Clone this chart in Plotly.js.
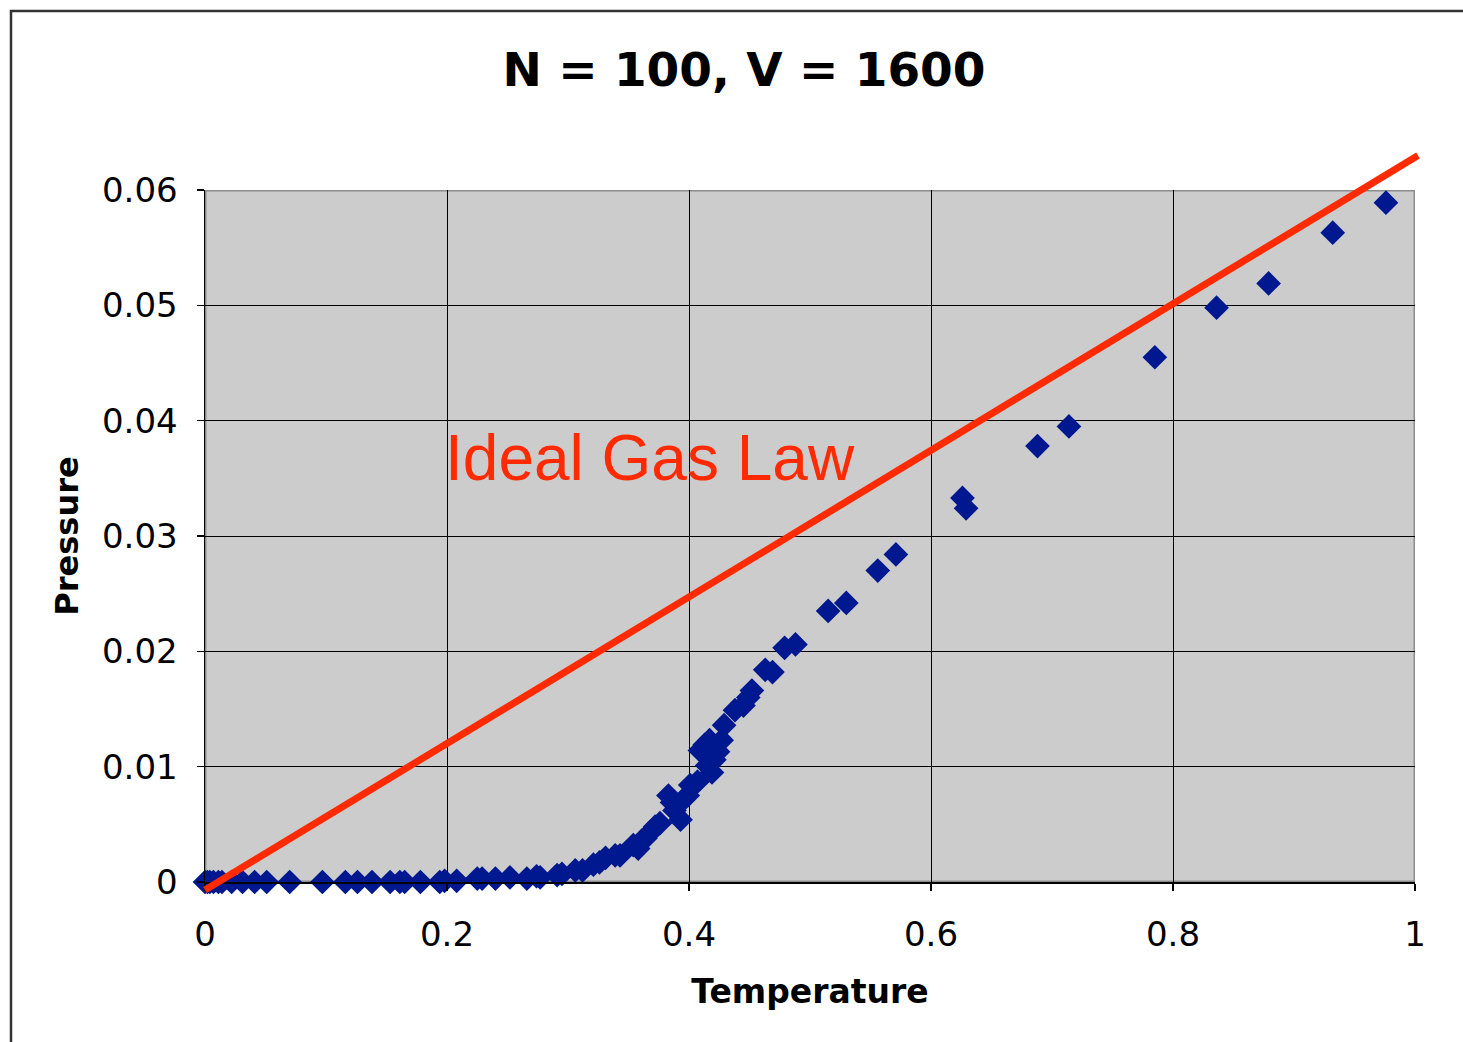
<!DOCTYPE html>
<html>
<head>
<meta charset="utf-8">
<script src="https://cdn.plot.ly/plotly-3.0.1.min.js"></script>
<style>html,body{margin:0;padding:0;background:#fff;}#chart{width:1463px;height:1042px;}</style>
</head>
<body>
<div id="chart"></div>
<script>
// ---- data ----
const temperature = [0, 0.002, 0.004, 0.007, 0.011, 0.014, 0.022, 0.031, 0.041, 0.051, 0.070, 0.097, 0.116, 0.126, 0.138, 0.153, 0.161, 0.165, 0.178, 0.194, 0.198,
  0.208, 0.225, 0.229, 0.240, 0.252, 0.266, 0.274, 0.277, 0.291, 0.295, 0.306, 0.312, 0.321, 0.326, 0.331, 0.339, 0.343,
  0.354, 0.358, 0.361, 0.364, 0.368, 0.372, 0.376, 0.383, 0.386, 0.388, 0.393, 0.395, 0.399, 0.401, 0.407,
  0.409, 0.413, 0.415, 0.417, 0.419, 0.421, 0.424, 0.427, 0.429, 0.438, 0.445, 0.449, 0.452, 0.463, 0.469, 0.479, 0.488,
  0.515, 0.530, 0.556, 0.571, 0.626, 0.629, 0.688, 0.714, 0.785, 0.836, 0.879, 0.932, 0.976];
const pressure = [0, 0, 0, 0, 0, 0, 0, 0, 0, 0, 0, 0, 0, 0, 0, 0, 0, 0, 0, 0, 0.0001,
  0.0001, 0.0003, 0.0003, 0.0003, 0.0004, 0.0003, 0.0005, 0.0004, 0.0006, 0.0007, 0.0010, 0.0010, 0.0015, 0.0017, 0.0021, 0.0023, 0.0023,
  0.0032, 0.0029, 0.0036, 0.0038, 0.0043, 0.0048, 0.0051, 0.0075, 0.0069, 0.0062, 0.0054, 0.0071, 0.0075, 0.0084, 0.0087,
  0.0114, 0.0119, 0.0101, 0.0123, 0.0095, 0.0106, 0.0113, 0.0123, 0.0136, 0.0149, 0.0153, 0.0160, 0.0166, 0.0184, 0.0182, 0.0203, 0.0206,
  0.0235, 0.0242, 0.0270, 0.0284, 0.0333, 0.0324, 0.0378, 0.0395, 0.0455, 0.0498, 0.0519, 0.0563, 0.0589];
const idealT = [0, 1.0025];
const idealP = [-0.0007, 0.0630];
const xTicks = [0, 0.2, 0.4, 0.6, 0.8, 1];
const yTicks = [0, 0.01, 0.02, 0.03, 0.04, 0.05, 0.06];
const titleText = 'N = 100, V = 1600';
const xTitle = 'Temperature';
const yTitle = 'Pressure';
const lawLabel = 'Ideal Gas Law';

// ---- layout geometry ----
const W = 1463, H = 1042;
const M = {l: 150, r: 20, t: 120, b: 100};
const P = {l: 205, r: 1415, t: 190, b: 882};   // plot area in pixels
const pw = W - M.l - M.r, ph = H - M.t - M.b;
const xr = [0, 1], yr = [0, 0.06];
const xdom = [(P.l - M.l) / pw, (P.r - M.l) / pw];
const ydom = [(H - M.b - P.b) / ph, (H - M.b - P.t) / ph];
const xPerPx = (xr[1] - xr[0]) / (P.r - P.l);
const yPerPx = (yr[1] - yr[0]) / (P.b - P.t);
const x2r = [xr[0] + (M.l - P.l) * xPerPx, xr[0] + (W - M.r - P.l) * xPerPx];
const y2r = [yr[0] + (P.b - (H - M.b)) * yPerPx, yr[0] + (P.b - M.t) * yPerPx];
const px2paperX = px => (px - M.l) / pw;
const px2paperY = py => (H - M.b - py) / ph;

const FONT = 'DejaVu Sans, Verdana, sans-serif';

const traces = [
  {
    x: temperature, y: pressure, type: 'scatter', mode: 'markers',
    xaxis: 'x', yaxis: 'y', cliponaxis: false,
    marker: {symbol: 'diamond', size: 19, color: '#00188f', line: {width: 0}},
    hoverinfo: 'x+y', showlegend: false
  },
  {
    x: idealT, y: idealP, type: 'scatter', mode: 'lines',
    xaxis: 'x2', yaxis: 'y2',
    line: {color: '#ff2a00', width: 7},
    hoverinfo: 'skip', showlegend: false
  }
];

const layout = {
  width: W, height: H,
  margin: M,
  paper_bgcolor: '#ffffff',
  plot_bgcolor: 'rgba(0,0,0,0)',
  showlegend: false,
  font: {family: FONT, color: '#000'},
  title: {
    text: titleText, xref: 'container', yref: 'container',
    x: 744 / W, y: 1 - 70 / H, xanchor: 'center', yanchor: 'middle',
    font: {family: FONT, size: 47, color: '#000', weight: 'bold'}
  },
  xaxis: {
    domain: xdom, range: xr, anchor: 'y',
    tickvals: xTicks, ticktext: xTicks.map(String),
    showgrid: true, gridcolor: '#000', gridwidth: 1,
    zeroline: false, showline: true, linecolor: '#000', linewidth: 1.5,
    ticks: 'outside', ticklen: 7, tickcolor: '#000', tickwidth: 1.5,
    ticklabelstandoff: 15,
    tickfont: {family: FONT, size: 34, color: '#000'},
    title: {text: xTitle, standoff: 26, font: {family: FONT, size: 33, color: '#000', weight: 'bold'}}
  },
  yaxis: {
    domain: ydom, range: yr, anchor: 'x',
    tickvals: yTicks, ticktext: yTicks.map(String),
    showgrid: true, gridcolor: '#000', gridwidth: 1,
    zeroline: false, showline: true, linecolor: '#000', linewidth: 1.5,
    ticks: 'outside', ticklen: 7, tickcolor: '#000', tickwidth: 1.5,
    ticklabelstandoff: 12,
    tickfont: {family: FONT, size: 34, color: '#000'},
    title: {text: yTitle, standoff: 14, font: {family: FONT, size: 32, color: '#000', weight: 'bold'}}
  },
  xaxis2: {domain: [0, 1], range: x2r, anchor: 'y2', visible: false, fixedrange: true},
  yaxis2: {domain: [0, 1], range: y2r, anchor: 'x2', visible: false, fixedrange: true},
  shapes: [
    {type: 'rect', xref: 'x', yref: 'y', x0: xr[0], x1: xr[1], y0: yr[0], y1: yr[1],
     layer: 'below', fillcolor: '#cccccc', line: {color: '#8c8c8c', width: 3}},
    {type: 'rect', xref: 'paper', yref: 'paper',
     x0: px2paperX(11), x1: px2paperX(W + 20), y0: px2paperY(H + 20), y1: px2paperY(11),
     layer: 'below', fillcolor: 'rgba(0,0,0,0)', line: {color: '#333333', width: 2.5}}
  ],
  annotations: [
    {text: lawLabel, xref: 'x', yref: 'y', x: 0.2, y: 0.0368, xanchor: 'left', yanchor: 'middle', xshift: -4,
     showarrow: false, font: {family: 'Liberation Sans, Arial, sans-serif', size: 64, color: '#ff2a00'}}
  ]
};

Plotly.newPlot('chart', traces, layout, {staticPlot: true, displayModeBar: false});
</script>
</body>
</html>
